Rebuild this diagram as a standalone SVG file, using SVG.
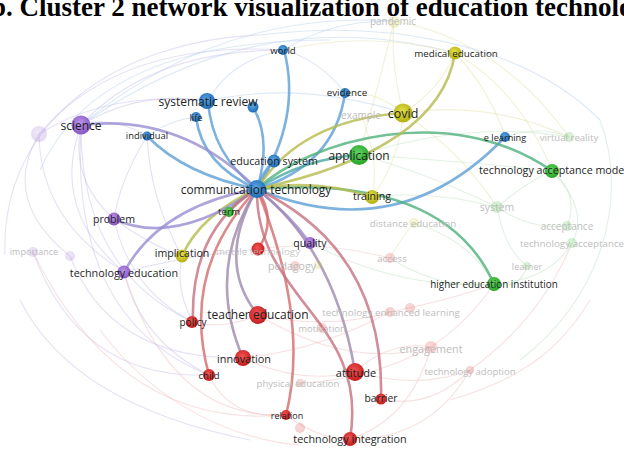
<svg xmlns="http://www.w3.org/2000/svg" width="624" height="449" viewBox="0 0 624 449">
<defs>
<style>
text{font-family:"Open Sans","DejaVu Sans",sans-serif;text-anchor:middle;dominant-baseline:central;fill:#1e1e1e}
text.title{font-family:"Liberation Serif","Times New Roman",serif;font-weight:bold;font-size:27px;text-anchor:start;dominant-baseline:alphabetic;fill:#000}
text.f{fill:#bdbdbd}
.fn{opacity:.22}
.hl{fill:none;stroke-width:2.6;stroke-linecap:round;opacity:.8}
.bg path{fill:none;stroke-width:1.1;opacity:.45}
.cp{stroke:#c6bde6}.cb{stroke:#b6cfea}.cg{stroke:#bfe0c0}.cy{stroke:#e2e0a8}.cr{stroke:#f0bcbc}
.eb{stroke:#5d9fd6}.eg{stroke:#4fb07c}.et{stroke:#4aa8a0}.ey{stroke:#b5ba4e}.ep{stroke:#9a8dd2}.er{stroke:#d46b6b}.em{stroke:#9f88ad}.er2{stroke:#c5707e}
.nb{fill:url(#gB)}.ng{fill:url(#gG)}.ny{fill:url(#gY)}.np{fill:url(#gP)}.nr{fill:url(#gR)}
</style>
<radialGradient id="gB" cx="45%" cy="40%" r="60%"><stop offset="0" stop-color="#58a4e4"/><stop offset="1" stop-color="#1f6cb4"/></radialGradient>
<radialGradient id="gG" cx="45%" cy="40%" r="60%"><stop offset="0" stop-color="#62d462"/><stop offset="1" stop-color="#26a326"/></radialGradient>
<radialGradient id="gY" cx="45%" cy="40%" r="60%"><stop offset="0" stop-color="#e2e04a"/><stop offset="1" stop-color="#b3b012"/></radialGradient>
<radialGradient id="gP" cx="45%" cy="40%" r="60%"><stop offset="0" stop-color="#bb95ea"/><stop offset="1" stop-color="#8756c2"/></radialGradient>
<radialGradient id="gR" cx="45%" cy="40%" r="60%"><stop offset="0" stop-color="#f25454"/><stop offset="1" stop-color="#c41c1c"/></radialGradient>
</defs>
<rect width="624" height="449" fill="#fff"/>
<text class="title" x="-9" y="16">b. Cluster 2 network visualization of education technology</text>

<g id="connectors">
<g class="bg">
<path class="cp" d="M81,125 Q150,50 284,50"/>
<path class="cb" d="M81,125 Q260,0 455,53"/>
<path class="cb" d="M81,125 Q220,10 394,21"/>
<path class="cp" d="M39,134 Q120,40 284,50"/>
<path class="cp" d="M39,134 Q110,90 208,101"/>
<path class="cp" d="M39,134 Q0,200 70,256"/>
<path class="cp" d="M39,134 Q40,220 124,272"/>
<path class="cp" d="M81,125 Q70,180 114,219"/>
<path class="cp" d="M81,125 Q50,210 124,272"/>
<path class="cp" d="M81,125 Q80,270 193,322"/>
<path class="cp" d="M81,125 Q70,320 209,375"/>
<path class="cp" d="M70,256 Q110,360 243,358"/>
<path class="cp" d="M33,252 Q80,380 209,375"/>
<path class="cr" d="M33,252 Q120,430 286,415"/>
<path class="cp" d="M114,219 Q130,290 193,322"/>
<path class="cp" d="M124,272 Q140,340 209,375"/>
<path class="cr" d="M124,272 Q170,420 286,415"/>
<path class="cr" d="M209,375 Q230,420 286,415"/>
<path class="cr" d="M286,415 Q320,440 350,439"/>
<path class="cr" d="M350,439 Q430,440 470,370"/>
<path class="cr" d="M350,439 Q410,420 431,347"/>
<path class="cr" d="M355,372 Q420,390 470,370"/>
<path class="cr" d="M355,372 Q390,340 431,347"/>
<path class="cr" d="M381,399 Q430,410 470,370"/>
<path class="cr" d="M258,315 Q330,330 390,312"/>
<path class="cr" d="M258,315 Q350,370 431,347"/>
<path class="cr" d="M243,358 Q300,385 355,372"/>
<path class="cr" d="M243,358 Q320,350 390,312"/>
<path class="cr" d="M193,322 Q225,330 258,315"/>
<path class="cr" d="M258,249 Q320,240 390,258"/>
<path class="cg" d="M390,258 Q440,290 494,284"/>
<path class="cg" d="M310,243 Q400,290 494,284"/>
<path class="cg" d="M414,223 Q470,240 494,284"/>
<path class="cg" d="M372,197 Q430,190 497,207"/>
<path class="cg" d="M497,207 Q530,180 552,171"/>
<path class="cg" d="M497,207 Q530,230 567,226"/>
<path class="cg" d="M497,207 Q505,250 527,266"/>
<path class="cg" d="M494,284 Q520,290 527,266"/>
<path class="cg" d="M494,284 Q550,280 572,243"/>
<path class="cg" d="M552,171 Q590,210 572,243"/>
<path class="cg" d="M552,171 Q580,195 567,226"/>
<path class="cg" d="M505,137 Q540,125 569,137"/>
<path class="cg" d="M359,155 Q470,120 569,137"/>
<path class="cg" d="M359,155 Q420,170 497,207"/>
<path class="cg" d="M359,155 Q450,160 552,171"/>
<path class="cy" d="M403,113 Q440,90 455,53"/>
<path class="cy" d="M403,113 Q390,60 394,21"/>
<path class="cy" d="M394,21 Q380,80 359,155"/>
<path class="cb" d="M394,21 Q330,20 284,50"/>
<path class="cy" d="M284,50 Q370,30 455,53"/>
<path class="cb" d="M284,50 Q320,60 345,93"/>
<path class="cb" d="M208,101 Q230,60 284,50"/>
<path class="cb" d="M208,101 Q300,80 403,113"/>
<path class="cy" d="M345,93 Q375,90 403,113"/>
<path class="cy" d="M361,115 Q380,160 372,197"/>
<path class="cy" d="M403,113 Q400,160 372,197"/>
<path class="cy" d="M455,53 Q520,90 552,171"/>
<path class="cy" d="M455,53 Q490,90 505,137"/>
<path class="cy" d="M394,21 Q500,40 569,137"/>
<path class="cy" d="M403,113 Q490,100 569,137"/>
<path class="cy" d="M403,113 Q460,150 497,207"/>
<path class="cy" d="M414,223 Q400,240 390,258"/>
<path class="cr" d="M431,347 Q470,320 494,284"/>
<path class="cr" d="M470,370 Q540,320 572,243"/>
<path class="cr" d="M390,312 Q450,300 494,284"/>
<path class="cr" d="M300,383 Q370,380 431,347"/>
<path class="cb" d="M147,136 Q170,120 196,117"/>
<path class="cp" d="M147,136 Q120,180 114,219"/>
<path class="cp" d="M147,136 Q150,200 182,256"/>
<path class="cp" d="M81,125 Q110,115 147,136"/>
<path class="cp" d="M114,219 Q150,245 182,256"/>
<path class="cp" d="M124,272 Q190,255 258,249"/>
<path class="cp" d="M182,256 Q175,290 193,322"/>
<path class="cp" d="M208,101 Q140,90 81,125"/>
<path class="cp" d="M5,255 C0,120 120,40 260,35" opacity=".3"/>
<path class="cb" d="M260,35 C380,20 520,40 600,120" opacity=".3"/>
<path class="cg" d="M600,120 C630,200 600,300 520,360" opacity=".3"/>
<path class="cr" d="M100,330 C160,410 240,440 300,445" opacity=".3"/>
<path class="cr" d="M450,400 C520,380 560,350 590,300" opacity=".3"/>
<path class="cp" d="M20,300 C60,380 150,420 250,440" opacity=".3"/>
<path class="cb" d="M40,170 C80,80 180,40 330,40" opacity=".3"/>
</g>
<g id="highlight">
<path class="hl eb" d="M257,189 Q302,118 284,50"/>
<path class="hl eb" d="M257,189 Q212,155 208,101"/>
<path class="hl eb" d="M257,189 Q202,165 196,117"/>
<path class="hl eb" d="M257,189 Q272,140 253,107"/>
<path class="hl eb" d="M257,189 Q185,175 147,136"/>
<path class="hl eb" d="M257,189 Q335,165 345,93"/>
<path class="hl eb" d="M257,189 Q399,248 505,137"/>
<path class="hl eb" d="M257,189 Q262,172 274,161"/>
<path class="hl et" d="M257,189 Q305,158 359,155"/>
<path class="hl eg" d="M257,189 C310,140 450,100 552,171"/>
<path class="hl eg" d="M257,189 Q238,198 229,212"/>
<path class="hl eg" d="M257,189 Q445,174 494,284"/>
<path class="hl ey" d="M257,189 Q300,120 403,113"/>
<path class="hl ey" d="M257,189 Q440,150 455,53"/>
<path class="hl ey" d="M257,189 Q315,178 372,197"/>
<path class="hl ey" d="M257,189 Q200,215 182,256"/>
<path class="hl ep" d="M257,189 Q181,113 81,125"/>
<path class="hl ep" d="M257,189 Q174,247 114,219"/>
<path class="hl ep" d="M257,189 Q160,206 124,272"/>
<path class="hl ep" d="M257,189 Q290,215 310,243"/>
<path class="hl er" d="M257,189 Q278,220 258,249"/>
<path class="hl em" d="M257,189 Q215,262 258,315"/>
<path class="hl er2" d="M257,189 Q190,230 193,322"/>
<path class="hl er" d="M257,189 Q180,270 209,375"/>
<path class="hl em" d="M257,189 Q205,270 243,358"/>
<path class="hl em" d="M257,189 Q335,250 355,372"/>
<path class="hl er2" d="M257,189 Q385,250 381,399"/>
<path class="hl er" d="M257,189 Q310,320 286,415"/>
<path class="hl er2" d="M257,189 C255,300 370,320 350,439"/>
</g>
</g>

<g id="faint-nodes">
<g id="n-pandemic"><circle class="fn ny" cx="394" cy="22" r="6"/><text class="f" x="393" y="21" font-size="10">pandemic</text></g>
<g id="n-soc"><circle class="fn np" cx="39" cy="134" r="8"/></g>
<g id="n-example"><text class="f" x="361" y="115" font-size="10">example</text></g>
<g id="n-virtual-reality"><circle class="fn ng" cx="569" cy="137" r="5"/><text class="f" x="569" y="137" font-size="9.6">virtual reality</text></g>
<g id="n-system"><circle class="fn ng" cx="497" cy="207" r="6"/><text class="f" x="497" y="207" font-size="10.5">system</text></g>
<g id="n-distance-education"><circle class="fn ny" cx="414" cy="223" r="5"/><text class="f" x="413" y="223" font-size="9.8">distance education</text></g>
<g id="n-acceptance"><circle class="fn ng" cx="567" cy="226" r="5"/><text class="f" x="567" y="226" font-size="10">acceptance</text></g>
<g id="n-technology-acceptance"><circle class="fn ng" cx="572" cy="243" r="5"/><text class="f" x="572" y="243" font-size="9.8">technology acceptance</text></g>
<g id="n-importance"><circle class="fn np" cx="33" cy="252" r="5"/><circle class="fn np" cx="70" cy="256" r="5"/><text class="f" x="34" y="251" font-size="9">importance</text></g>
<g id="n-access"><circle class="fn nr" cx="390" cy="258" r="5"/><text class="f" x="392" y="258" font-size="9.8">access</text></g>
<g id="n-pedagogy"><circle class="fn nr" cx="295" cy="266" r="5"/><circle class="fn ny" cx="318" cy="265" r="4"/><text class="f" x="292" y="266" font-size="10.6">pedagogy</text></g>
<g id="n-learner"><circle class="fn ng" cx="527" cy="266" r="4"/><text class="f" x="527" y="266" font-size="9">learner</text></g>
<g id="n-tel"><circle class="fn nr" cx="390" cy="312" r="5"/><circle class="fn nr" cx="410" cy="308" r="5"/><text class="f" x="391" y="312" font-size="9.8">technology enhanced learning</text></g>
<g id="n-motivation"><circle class="fn nr" cx="322" cy="328" r="5"/><text class="f" x="322" y="328" font-size="9.5">motivation</text></g>
<g id="n-engagement"><circle class="fn nr" cx="431" cy="347" r="6"/><text class="f" x="431" y="348" font-size="10.8">engagement</text></g>
<g id="n-technology-adoption"><circle class="fn nr" cx="470" cy="370" r="4"/><text class="f" x="470" y="371" font-size="9.5">technology adoption</text></g>
<g id="n-physical-education"><circle class="fn nr" cx="300" cy="383" r="4"/><text class="f" x="298" y="383" font-size="9.6">physical education</text></g>
<g id="n-f1"><circle class="fn nr" cx="300" cy="428" r="5"/></g>
</g>

<g id="nodes">
<g id="n-b2"><circle class="nb" cx="253" cy="107" r="5.5"/></g>
<g id="n-life"><circle class="nb" cx="196" cy="117" r="5"/><text x="196" y="117" font-size="9.2">life</text></g>
<g id="n-world"><circle class="nb" cx="283" cy="50" r="5"/><text x="283" y="50" font-size="9.6">world</text></g>
<g id="n-systematic-review"><circle class="nb" cx="207" cy="101" r="8"/><text x="208" y="101" font-size="12">systematic review</text></g>
<g id="n-individual"><circle class="nb" cx="147" cy="136" r="4.5"/><text x="147" y="135" font-size="9.4">individual</text></g>
<g id="n-evidence"><circle class="nb" cx="345" cy="93" r="5"/><text x="347" y="92" font-size="9.8">evidence</text></g>
<g id="n-e-learning"><circle class="nb" cx="505" cy="137" r="5"/><text x="505" y="137" font-size="9.2">e learning</text></g>
<g id="n-medical-education"><circle class="ny" cx="455" cy="53" r="6.5"/><text x="456" y="53" font-size="9.8">medical education</text></g>
<g id="n-covid"><circle class="ny" cx="403" cy="113" r="9.5"/><text x="403" y="113" font-size="12.5">covid</text></g>
<g id="n-science"><circle class="np" cx="81" cy="125" r="9.5"/><text x="81" y="125" font-size="12">science</text></g>
<g id="n-term"><circle class="ng" cx="229" cy="212" r="5"/><text x="229" y="211" font-size="9.8">term</text></g>
<g id="n-problem"><circle class="np" cx="114" cy="219" r="6.5"/><text x="114" y="219" font-size="10.6">problem</text></g>
<g id="n-quality"><circle class="np" cx="310" cy="243" r="6"/><text x="310" y="243" font-size="10.6">quality</text></g>
<g id="n-implication"><circle class="ny" cx="182" cy="256" r="6.5"/><text x="182" y="253" font-size="10.6">implication</text></g>
<g id="n-mobile-technology"><circle class="nr" cx="258" cy="249" r="6.5"/><text class="f" x="258" y="251" font-size="9.8" fill-opacity=".85">mobile technology</text></g>
<g id="n-technology-education"><circle class="np" cx="124" cy="272" r="6.5"/><text x="124" y="272" font-size="10.8">technology education</text></g>
<g id="n-training"><circle class="ny" cx="372" cy="197" r="7"/><text x="372" y="196" font-size="10.6">training</text></g>
<g id="n-technology-acceptance-model"><circle class="ng" cx="552" cy="171" r="7"/><text x="553" y="170" font-size="10.7">technology acceptance model</text></g>
<g id="n-higher-education-institution"><circle class="ng" cx="494" cy="284" r="7"/><text x="494" y="284" font-size="9.9">higher education institution</text></g>
<g id="n-policy"><circle class="nr" cx="192" cy="322" r="6"/><text x="193" y="322" font-size="10">policy</text></g>
<g id="n-teacher-education"><circle class="nr" cx="258" cy="315" r="9"/><text x="258" y="314" font-size="12">teacher education</text></g>
<g id="n-child"><circle class="nr" cx="209" cy="375" r="6"/><text x="209" y="375" font-size="9.5">child</text></g>
<g id="n-innovation"><circle class="nr" cx="243" cy="358" r="8"/><text x="244" y="358" font-size="10.9">innovation</text></g>
<g id="n-attitude"><circle class="nr" cx="355" cy="372" r="9"/><text x="356" y="372" font-size="11">attitude</text></g>
<g id="n-barrier"><circle class="nr" cx="381" cy="399" r="5.5"/><text x="381" y="398" font-size="10.3">barrier</text></g>
<g id="n-relation"><circle class="nr" cx="286" cy="415" r="5"/><text x="287" y="415" font-size="9">relation</text></g>
<g id="n-technology-integration"><circle class="nr" cx="350" cy="439" r="7"/><text x="350" y="438" font-size="10.8">technology integration</text></g>
<g id="n-application"><circle class="ng" cx="359" cy="155" r="10"/><text x="359" y="155" font-size="11.9">application</text></g>
<g id="n-education-system"><circle class="nb" cx="274" cy="161" r="6.5"/><text x="274" y="161" font-size="10.7">education system</text></g>
<g id="n-communication-technology"><circle class="nb" cx="257" cy="189" r="9"/><text x="256" y="189" font-size="11.9">communication technology</text></g>
</g>
</svg>
